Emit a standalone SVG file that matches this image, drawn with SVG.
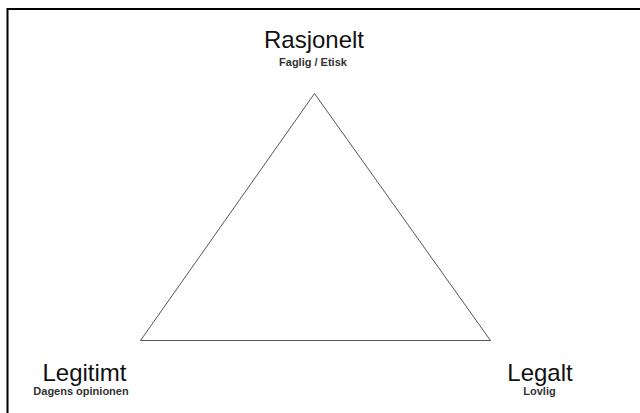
<svg xmlns="http://www.w3.org/2000/svg" width="640" height="413" viewBox="0 0 640 413">
<style>
.big{font-family:"Liberation Sans",Arial,sans-serif;font-size:24px;fill:#111;text-anchor:middle}
.small{font-family:"Liberation Sans",Arial,sans-serif;font-size:11px;font-weight:bold;fill:#333;text-anchor:middle}
</style>
<rect x="0" y="0" width="640" height="413" fill="#fff"/>
<rect x="7.5" y="9" width="700" height="500" fill="none" stroke="#000" stroke-width="2"/>
<g id="connectors">
<polygon points="314.5,93.5 140.5,340.5 490.5,340.5" fill="none" stroke="#555" stroke-width="1"/>
</g>
<g id="rasjonelt">
<text class="big" x="314" y="48">Rasjonelt</text>
<text class="small" x="313" y="65.5">Faglig / Etisk</text>
</g>
<g id="legitimt">
<text class="big" x="84.5" y="381">Legitimt</text>
<text class="small" x="81" y="394.5">Dagens opinionen</text>
</g>
<g id="legalt">
<text class="big" x="540" y="381">Legalt</text>
<text class="small" x="539.5" y="394.5">Lovlig</text>
</g>
</svg>
